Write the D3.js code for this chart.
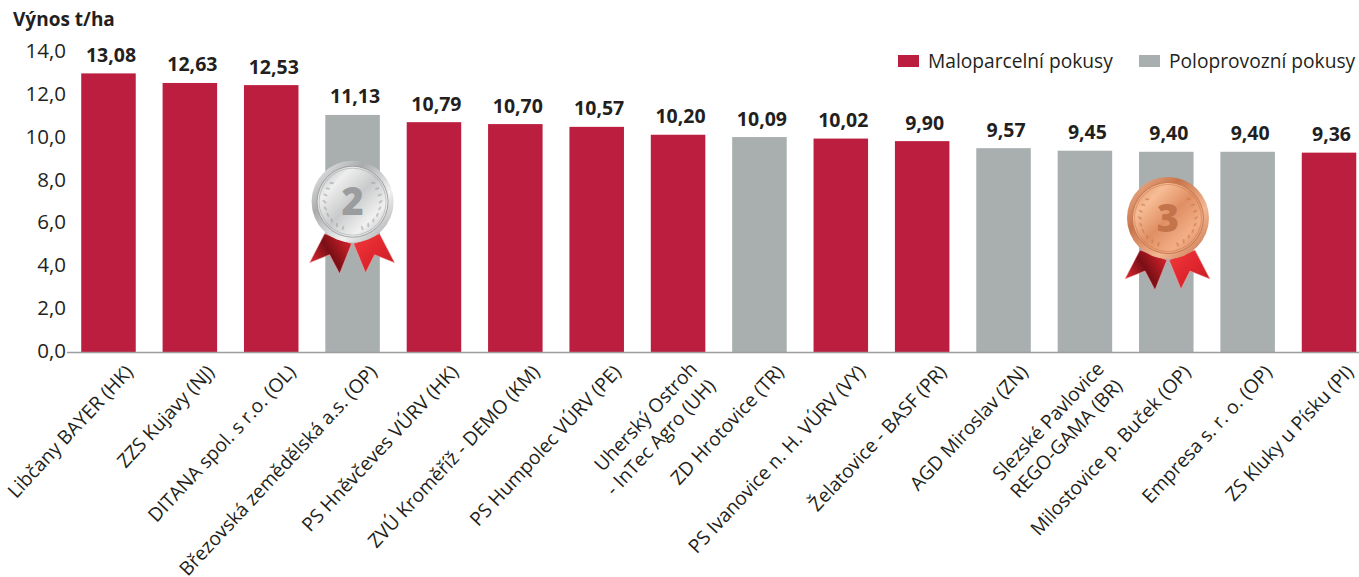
<!DOCTYPE html>
<html lang="cs">
<head>
<meta charset="UTF-8">
<title>Výnos t/ha</title>
<script src="https://d3js.org/d3.v7.min.js"></script>
<style>
  html, body { margin: 0; padding: 0; background: #fff; overflow: hidden; }
  text { font-family: "Open Sans", "Noto Sans", sans-serif; fill: #231f20; }
</style>
</head>
<body>
<svg id="chart" width="1359" height="577"></svg>
<script>
// data
const categories = [
  "Libčany BAYER (HK)", "ZZS Kujavy (NJ)", "DITANA spol. s r.o. (OL)",
  "Březovská zemědělská a.s. (OP)", "PS Hněvčeves VÚRV (HK)",
  "ZVÚ Kroměříž - DEMO (KM)", "PS Humpolec VÚRV (PE)",
  "Uherský Ostroh\n- InTec Agro (UH)", "ZD Hrotovice (TR)",
  "PS Ivanovice n. H. VÚRV (VY)", "Želatovice - BASF (PR)",
  "AGD Miroslav (ZN)", "Slezské Pavlovice\nREGO-GAMA (BR)",
  "Milostovice p. Buček (OP)", "Empresa s. r. o. (OP)", "ZS Kluky u Písku (PI)"
];
const values = [13.08, 12.63, 12.53, 11.13, 10.79, 10.70, 10.57, 10.20, 10.09, 10.02, 9.90, 9.57, 9.45, 9.40, 9.40, 9.36];
const trialTypes = ["M", "M", "M", "P", "M", "M", "M", "M", "P", "M", "M", "P", "P", "P", "P", "M"];
const legendLabels = ["Maloparcelní pokusy", "Poloprovozní pokusy"];
const yTicks = [0, 2, 4, 6, 8, 10, 12, 14];

const RED = "#bc1e3f", GRAY = "#a9aeaf";
const cz = d => d.toFixed(2).replace(".", ",");

const svg = d3.select("#chart");
const x = d3.scaleBand().domain(d3.range(categories.length)).range([67.8, 1369.7])
  .paddingInner(0.33).paddingOuter(0.165);
const y = d3.scaleLinear().domain([0, 14]).range([352, 53.8]);
// the tick labels sit a touch tighter than the bars in the original
const yLabel = d3.scaleLinear().domain([0, 14]).range([351, 51]);

// y axis labels
svg.append("text").attr("x", 13).attr("y", 26).attr("font-size", 19).attr("font-weight", 700).text("Výnos t/ha");
svg.selectAll(".ytick").data(yTicks).join("text")
  .attr("class", "ytick")
  .attr("x", 66).attr("y", d => yLabel(d) + 7)
  .attr("text-anchor", "end").attr("font-size", 20.5)
  .text(d => d.toFixed(1).replace(".", ","));

// bars
svg.selectAll(".bar").data(values).join("rect")
  .attr("class", "bar")
  .attr("x", (d, i) => x(i)).attr("width", x.bandwidth())
  .attr("y", d => y(d)).attr("height", d => y(0) - y(d))
  .attr("fill", (d, i) => trialTypes[i] === "M" ? RED : GRAY);

svg.append("line").attr("x1", 67).attr("x2", 1359).attr("y1", y(0) + 0.5).attr("y2", y(0) + 0.5)
  .attr("stroke", "#9b9d9e").attr("stroke-width", 1.6);

// value labels
svg.selectAll(".val").data(values).join("text")
  .attr("class", "val")
  .attr("x", (d, i) => x(i) + x.bandwidth() / 2 + 2.5).attr("y", d => y(d) - 11.5)
  .attr("text-anchor", "middle").attr("font-size", 19.5).attr("font-weight", 700)
  .text(cz);

// rotated category labels, the two line ones sit further down the slope
const cat = svg.selectAll(".cat").data(categories).join("text")
  .attr("class", "cat")
  .attr("text-anchor", "end").attr("font-size", 19.2)
  .attr("transform", (d, i) => {
    const two = d.includes("\n") ? 1 : 0;
    return `translate(${x(i) + x.bandwidth() / 2 + 15 + two * 13},${y(0) + 11 + two * 14}) rotate(-47)`;
  });
cat.each(function (d) {
  const lines = d.split("\n");
  d3.select(this).selectAll("tspan").data(lines).join("tspan")
    .attr("x", 0)
    .attr("dy", (l, j) => j === 0 ? (lines.length > 1 ? "-0.55em" : "0.75em") : "1.3em")
    .text(l => l);
});

// legend
const legend = svg.selectAll(".leg").data(legendLabels).join("g")
  .attr("class", "leg")
  .attr("transform", (d, i) => `translate(${[898, 1139][i]},55)`);
legend.append("rect").attr("width", 21).attr("height", 12).attr("fill", (d, i) => i === 0 ? RED : GRAY);
legend.append("text").attr("x", 30).attr("y", 12.5).attr("font-size", 19.2).text(d => d);

// medals
const defs = svg.append("defs");
function grad(id, stops, x1, y1, x2, y2) {
  const g = defs.append("linearGradient").attr("id", id)
    .attr("x1", x1).attr("y1", y1).attr("x2", x2).attr("y2", y2);
  stops.forEach((c, i) => g.append("stop").attr("offset", i / (stops.length - 1)).attr("stop-color", c));
}
grad("silverFace", ["#a6a8aa", "#eeeeee", "#c9cacb", "#f1f1f1", "#b3b4b6"], 0, 0, 1, 1);
grad("silverRim", ["#f5f5f5", "#a9abad", "#f2f2f2", "#9b9d9f"], 0, 0, 1, 1);
grad("bronzeFace", ["#d98a5e", "#f7bd96", "#e08f63", "#f3ae86", "#cf7c50"], 0, 0, 1, 1);
grad("bronzeRim", ["#f4bd9b", "#c8744a", "#f3b793", "#bf6c43"], 0, 0, 1, 1);
grad("ribbonL", ["#e62c34", "#7a0f16", "#d8232c"], 0, 0.8, 1, 0.2);
grad("ribbonR", ["#f03a3c", "#e0262e", "#c01e25"], 0, 0, 1, 1);

const ribbonLeft = [[-28, 32], [-43, 61], [-23, 53], [-13, 72], [-1, 42]];
const ribbonRight = [[1, 42], [13, 71], [22, 53], [42, 61], [27, 32]];
// leaves of the laurel, angle in degrees from the bottom of the medal
const laurel = [20, 34, 48, 62, 76, 90, 104, 118, 132];

function medal(index, cy, dx, kind, digit, digitColor) {
  const g = svg.append("g").attr("transform", `translate(${x(index) + x.bandwidth() / 2 + dx},${cy})`);
  g.append("polygon").attr("points", ribbonLeft.join(" ")).attr("fill", "url(#ribbonL)")
    .attr("stroke", "#f6b3b3").attr("stroke-width", 0.5);
  g.append("polygon").attr("points", ribbonRight.join(" ")).attr("fill", "url(#ribbonR)")
    .attr("stroke", "#f6b3b3").attr("stroke-width", 0.5);
  g.append("circle").attr("r", 41).attr("fill", `url(#${kind}Rim)`);
  g.append("circle").attr("r", 35.5).attr("fill", `url(#${kind}Face)`)
    .attr("stroke", digitColor).attr("stroke-width", 0.9);
  g.append("circle").attr("r", 33.5).attr("fill", "none").attr("stroke", digitColor).attr("stroke-width", 0.5);
  [-1, 1].forEach(side => {
    g.selectAll(null).data(laurel).join("ellipse")
      .attr("rx", 2.3).attr("ry", 1)
      .attr("fill", digitColor).attr("opacity", 0.55)
      .attr("transform", a => {
        const r = a * Math.PI / 180;
        return `translate(${side * 28 * Math.sin(r)},${28 * Math.cos(r)}) rotate(${side * (a + 50)})`;
      });
  });
  g.append("text").attr("y", 13.5).attr("text-anchor", "middle")
    .attr("font-size", 38).attr("font-weight", 800)
    .style("fill", digitColor).text(digit);
}
medal(3, 201.7, 0, "silver", "2", "#9a9c9e");
medal(13, 218, 1.7, "bronze", "3", "#c4744a");
</script>
</body>
</html>
